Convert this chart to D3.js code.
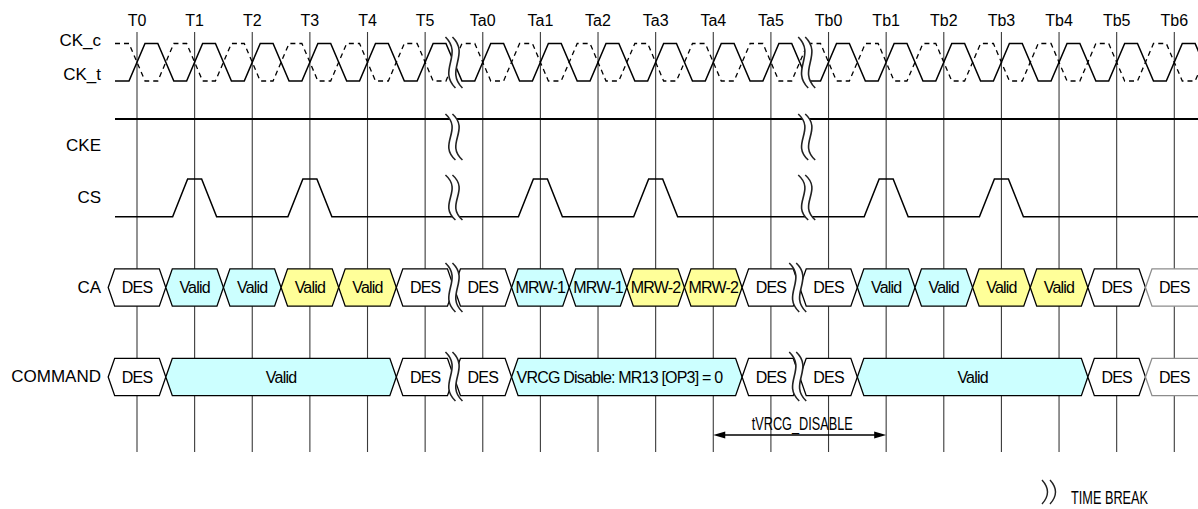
<!DOCTYPE html>
<html><head><meta charset="utf-8">
<script src="https://cdn.jsdelivr.net/npm/d3@7"></script>
<style>html,body{margin:0;padding:0;background:#fff;} svg{display:block;font-family:"Liberation Sans",Arial,sans-serif;}</style>
</head><body><svg id="c" width="1198" height="509"></svg>
<script>
// ---- data ----
const ticks = ["T0","T1","T2","T3","T4","T5","Ta0","Ta1","Ta2","Ta3","Ta4","Ta5","Tb0","Tb1","Tb2","Tb3","Tb4","Tb5","Tb6"];
const signalNames = ["CK_c","CK_t","CKE","CS","CA","COMMAND"];
const breakAfter = ["T5","Ta5"];
const csPulses = ["T1","T3","Ta1","Ta3","Tb1","Tb3"];
const caLabels = ["DES","Valid","Valid","Valid","Valid","DES","DES","MRW-1","MRW-1","MRW-2","MRW-2","DES","DES","Valid","Valid","Valid","Valid","DES","DES"];
const caFills  = ["none","cyan","cyan","yellow","yellow","none","none","cyan","cyan","yellow","yellow","none","none","cyan","cyan","yellow","yellow","none","none"];
const cmdLabels = ["DES","Valid","DES","DES","VRCG Disable: MR13 [OP3] = 0","DES","DES","Valid","DES","DES"];
const cmdStart  = ["T0","T1","T5","Ta0","Ta1","Ta5","Tb0","Tb1","Tb5","Tb6"];
const cmdEnd    = ["T0","T4","T5","Ta0","Ta4","Ta5","Tb0","Tb4","Tb5","Tb6"];
const cmdFills  = ["none","cyan","none","none","cyan","none","none","cyan","none","none"];
const fadedTick = "Tb6";
const timingLabel = "tVRCG_DISABLE";
const timingSpan = ["Ta4","Tb1"];
const legendLabel = "TIME BREAK";

// ---- layout ----
const W = 1198, H = 509;
const svg = d3.select("#c");
const x = d3.scalePoint().domain(ticks).range([137, 1174.3]);
const step = x.step();
const colors = {none:"#ffffff", cyan:"#ccffff", yellow:"#ffff99"};
const sigX0 = 115;
const clkHi = 43.5, clkLo = 81, clkHw = 8;
const ckeY = 119;
const csHi = 179, csLo = 216.7;
const caC = 287.5, cmdC = 377, cellHh = 18.7, cellW = 6.5;

// vertical tick lines
svg.append("g").selectAll("line").data(ticks).join("line")
  .attr("x1", d => x(d)).attr("x2", d => x(d))
  .attr("y1", 32).attr("y2", 452)
  .attr("stroke", "#3a3a3a").attr("stroke-width", 1.1);

// tick labels
svg.append("g").selectAll("text").data(ticks).join("text")
  .attr("x", d => x(d)).attr("y", 26).attr("text-anchor", "middle")
  .attr("font-size", 16).attr("fill", "#000").text(d => d);

// signal labels
const labelY = [46, 79.5, 150.5, 203, 293, 382];
svg.append("g").selectAll("text").data(signalNames).join("text")
  .attr("x", 101).attr("y", (d, i) => labelY[i]).attr("text-anchor", "end")
  .attr("font-size", 17).attr("fill", "#000").text(d => d);

// clock
function clockPts(inv) {
  const lowV = inv ? clkHi : clkLo, highV = inv ? clkLo : clkHi;
  const pts = [[sigX0, lowV]];
  ticks.forEach(t => {
    const xt = x(t);
    pts.push([xt - clkHw, lowV], [xt + clkHw, highV], [xt + step / 2 - clkHw, highV], [xt + step / 2 + clkHw, lowV]);
  });
  return pts;
}
const line = d3.line();
svg.append("path").attr("d", line(clockPts(true))).attr("fill", "none")
  .attr("stroke", "#000").attr("stroke-width", 1.3).attr("stroke-dasharray", "5,4");
svg.append("path").attr("d", line(clockPts(false))).attr("fill", "none")
  .attr("stroke", "#000").attr("stroke-width", 1.5);

// CKE
svg.append("line").attr("x1", sigX0).attr("x2", W).attr("y1", ckeY).attr("y2", ckeY)
  .attr("stroke", "#000").attr("stroke-width", 2);

// CS
const csPts = [[sigX0, csLo]];
csPulses.forEach(t => {
  const xt = x(t);
  csPts.push([xt - 22, csLo], [xt - 7, csHi], [xt + 7, csHi], [xt + 22, csLo]);
});
csPts.push([W, csLo]);
svg.append("path").attr("d", line(csPts)).attr("fill", "none")
  .attr("stroke", "#000").attr("stroke-width", 1.5);

// bus cells
function hexPath(xa, xb, c) {
  return `M${xa},${c} L${xa + cellW},${c - cellHh} L${xb - cellW},${c - cellHh} L${xb},${c} L${xb - cellW},${c + cellHh} L${xa + cellW},${c + cellHh} Z`;
}
function drawCells(g, cells, c) {
  g.selectAll("path").data(cells).join("path")
    .attr("d", d => hexPath(d.xa, d.xb, c))
    .attr("fill", d => colors[d.fill])
    .attr("stroke", d => d.faded ? "#8c8c8c" : "#000")
    .attr("stroke-width", 1.3);
  g.selectAll("text").data(cells).join("text")
    .attr("x", d => d.left ? d.xa + 5 : (d.xa + Math.min(d.xb, x(ticks[ticks.length - 1]) + step / 2)) / 2)
    .attr("y", c + 5.8)
    .attr("text-anchor", d => d.left ? "start" : "middle")
    .attr("font-size", 16).attr("letter-spacing", -0.8).attr("fill", "#000")
    .text(d => d.label);
}
const caCells = ticks.map((t, i) => ({
  label: caLabels[i], fill: caFills[i],
  xa: x(t) - step / 2,
  xb: t === fadedTick ? W + 20 : x(t) + step / 2,
  faded: t === fadedTick
}));
drawCells(svg.append("g"), caCells, caC);
const cmdCells = cmdLabels.map((l, i) => ({
  label: l, fill: cmdFills[i],
  xa: x(cmdStart[i]) - step / 2,
  xb: cmdEnd[i] === fadedTick ? W + 20 : x(cmdEnd[i]) + step / 2,
  faded: cmdEnd[i] === fadedTick,
  left: l.length > 12
}));
drawCells(svg.append("g"), cmdCells, cmdC);

// time breaks
function drawBreak(cx, y0, y1) {
  const h = y1 - y0, g = svg.append("g");
  const a = cx - 3.5, b = cx + 3.5, k = 13;
  g.append("path")
    .attr("d", `M${a - 5},${y0} C${a + k},${y0 + h * 0.35} ${a - k},${y0 + h * 0.65} ${a + 5},${y1} L${b + 5},${y1} C${b - k},${y0 + h * 0.65} ${b + k},${y0 + h * 0.35} ${b - 5},${y0} Z`)
    .attr("fill", "#fff");
  [a, b].forEach(p => g.append("path")
    .attr("d", `M${p - 5},${y0} C${p + k},${y0 + h * 0.35} ${p - k},${y0 + h * 0.65} ${p + 5},${y1}`)
    .attr("fill", "none").attr("stroke", "#222").attr("stroke-width", 1.6));
}
const rowBreakY = [[37, 88], [114, 160], [175, 220], [263, 312], [352, 401]];
const rowShift2 = [7, 7, 7, -2, -2];
breakAfter.forEach((t, k) => {
  const mid = x(t) + step / 2;
  rowBreakY.forEach((r, i) => drawBreak(mid + (k === 1 ? rowShift2[i] : 0), r[0], r[1]));
});

// timing annotation
const ax0 = x(timingSpan[0]), ax1 = x(timingSpan[1]), ay = 435;
svg.append("line").attr("x1", ax0 + 8).attr("x2", ax1 - 8).attr("y1", ay).attr("y2", ay)
  .attr("stroke", "#000").attr("stroke-width", 1.3);
svg.append("path").attr("d", `M${ax0},${ay} L${ax0 + 12},${ay - 3.5} L${ax0 + 12},${ay + 3.5} Z`).attr("fill", "#000");
svg.append("path").attr("d", `M${ax1},${ay} L${ax1 - 12},${ay - 3.5} L${ax1 - 12},${ay + 3.5} Z`).attr("fill", "#000");
svg.append("text").attr("x", (ax0 + ax1) / 2 - 48).attr("y", ay - 5)
  .attr("font-size", 18).attr("textLength", 101).attr("lengthAdjust", "spacingAndGlyphs")
  .attr("fill", "#000").text(timingLabel);

// legend
[1042, 1050].forEach(p => svg.append("path")
  .attr("d", `M${p},${480} Q${p + 11},${492} ${p},${504}`)
  .attr("fill", "none").attr("stroke", "#222").attr("stroke-width", 1.4));
svg.append("text").attr("x", 1071).attr("y", 504)
  .attr("font-size", 18).attr("textLength", 77).attr("lengthAdjust", "spacingAndGlyphs")
  .attr("fill", "#000").text(legendLabel);
</script></body></html>
